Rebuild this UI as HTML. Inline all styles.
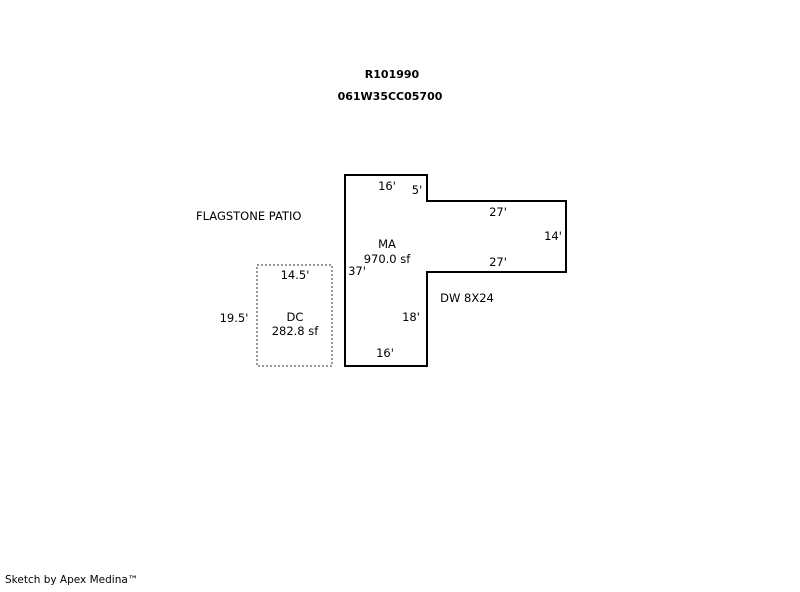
<!DOCTYPE html>
<html><head><style>
body{margin:0;background:#fff;width:800px;height:587px;overflow:hidden}
</style></head><body>
<svg width="800" height="587" xmlns="http://www.w3.org/2000/svg" font-family="DejaVu Sans, Liberation Sans, sans-serif" font-size="11.5" fill="#000">
<polygon points="345,175 427,175 427,201 566,201 566,272 427,272 427,366 345,366" fill="none" stroke="#000" stroke-width="2"/>
<rect x="257" y="265" width="75" height="101" fill="none" stroke="#777" stroke-width="1.5" stroke-dasharray="2,2"/>
<text x="392" y="78" font-weight="bold" text-anchor="middle" font-size="11">R101990</text>
<text x="390" y="100" font-weight="bold" text-anchor="middle" font-size="11">061W35CC05700</text>
<text x="196" y="220">FLAGSTONE PATIO</text>
<text x="387" y="190" text-anchor="middle">16'</text>
<text x="417" y="194" text-anchor="middle">5'</text>
<text x="498" y="216" text-anchor="middle">27'</text>
<text x="553" y="240" text-anchor="middle">14'</text>
<text x="387" y="248" text-anchor="middle">MA</text>
<text x="387" y="263" text-anchor="middle">970.0 sf</text>
<text x="498" y="266" text-anchor="middle">27'</text>
<text x="357" y="275" text-anchor="middle">37'</text>
<text x="467" y="302" text-anchor="middle">DW 8X24</text>
<text x="411" y="321" text-anchor="middle">18'</text>
<text x="385" y="357" text-anchor="middle">16'</text>
<text x="295" y="279" text-anchor="middle">14.5'</text>
<text x="234" y="322" text-anchor="middle">19.5'</text>
<text x="295" y="321" text-anchor="middle">DC</text>
<text x="295" y="335" text-anchor="middle">282.8 sf</text>
<text x="5" y="583" font-size="10.5">Sketch by Apex Medina™</text>
</svg>
</body></html>
